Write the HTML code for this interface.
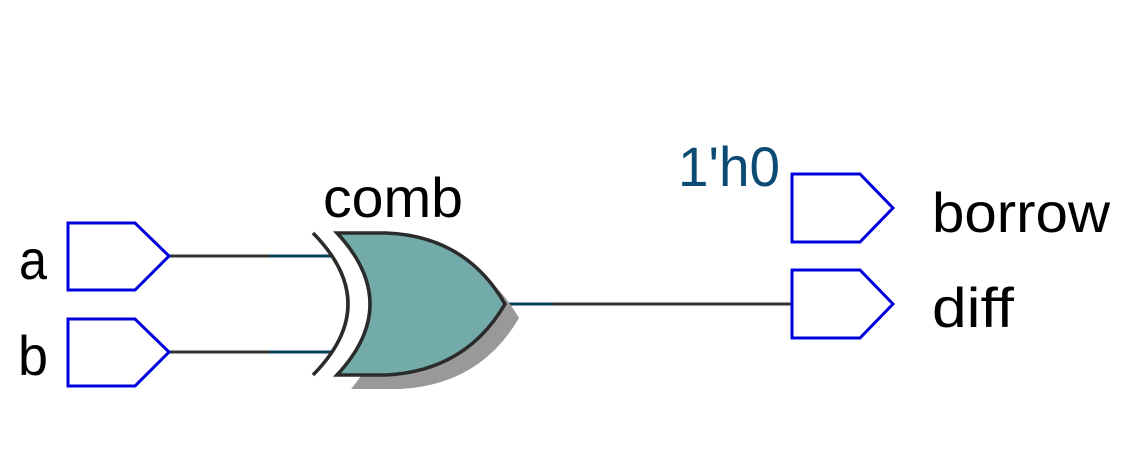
<!DOCTYPE html>
<html><head><meta charset="utf-8"><style>
html,body{margin:0;padding:0;background:#fff;}
svg{display:block;}
text{font-family:"Liberation Sans","DejaVu Sans",sans-serif;}
</style></head><body>
<svg width="1137" height="468" viewBox="0 0 1137 468">
  <g>
    <line x1="170" y1="256" x2="270" y2="256" stroke="#333" stroke-width="3"/>
    <line x1="270" y1="256" x2="333" y2="256" stroke="#0b3d5c" stroke-width="3"/>
  </g>
  <g>
    <line x1="170" y1="352" x2="270" y2="352" stroke="#333" stroke-width="3"/>
    <line x1="270" y1="352" x2="333" y2="352" stroke="#0b3d5c" stroke-width="3"/>
  </g>
  <g>
    <line x1="505" y1="304" x2="552" y2="304" stroke="#0b3d5c" stroke-width="3"/>
    <line x1="552" y1="304" x2="792" y2="304" stroke="#333" stroke-width="3"/>
  </g>

  <g>
    <path d="M351 389 L400 389 Q480 385 519 318 Q480 250 400 247 L351 247 Q410 318 351 389 Z" fill="#999"/>
    <path d="M337 233 L386 233 Q466 236 505 304 Q466 371 386 375 L337 375 Q403 304 337 233 Z" fill="#73abab" stroke="#2b2b2b" stroke-width="3.5" stroke-linejoin="miter"/>
    <path d="M313 233 Q383 304 313 375" fill="none" stroke="#2b2b2b" stroke-width="3.5"/>
  </g>
  <text x="323" y="217" font-size="56" fill="#000" textLength="140" lengthAdjust="spacingAndGlyphs">comb</text>

  <polygon points="68,223 135,223 169,256 135,290 68,290" fill="#fff" stroke="#0000dd" stroke-width="3"/>
  <polygon points="68,319 135,319 169,352 135,386 68,386" fill="#fff" stroke="#0000dd" stroke-width="3"/>
  <text x="19" y="279" font-size="56" fill="#000" textLength="28" lengthAdjust="spacingAndGlyphs">a</text>
  <text x="18" y="375" font-size="56" fill="#000" textLength="30" lengthAdjust="spacingAndGlyphs">b</text>

  <polygon points="792,174 860,174 893,208 860,242 792,242" fill="#fff" stroke="#0000dd" stroke-width="3"/>
  <polygon points="792,270 860,270 893,304 860,338 792,338" fill="#fff" stroke="#0000dd" stroke-width="3"/>
  <text x="932" y="232" font-size="56" fill="#000" textLength="178" lengthAdjust="spacingAndGlyphs">borrow</text>
  <text x="932" y="327" font-size="56" fill="#000" textLength="82" lengthAdjust="spacingAndGlyphs">diff</text>
  <text x="678" y="186" font-size="56" fill="#0b4a73" textLength="102" lengthAdjust="spacingAndGlyphs">1'h0</text>
</svg>
</body></html>
